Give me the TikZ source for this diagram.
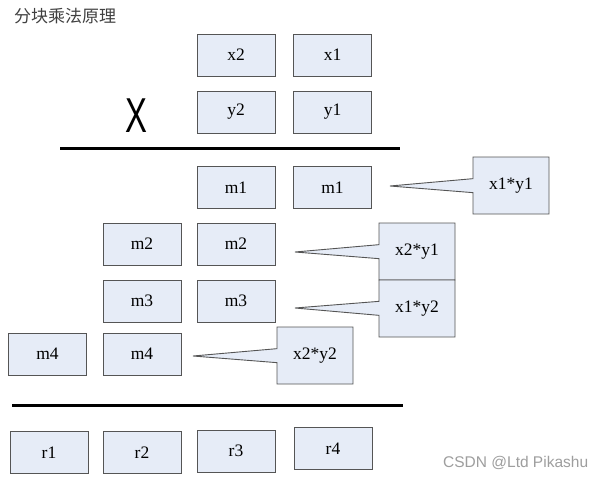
\documentclass[tikz,border=0pt]{standalone}
\usepackage{fontspec}
\usepackage{graphicx}
\setmainfont{Liberation Serif}
\newfontfamily\cjkfont{Noto Sans CJK SC}
\newfontfamily\arialfont{Liberation Sans}
\usetikzlibrary{shapes.callouts}
\definecolor{boxfill}{RGB}{230,236,247}
\definecolor{boxline}{RGB}{85,85,85}
\begin{document}
\begin{tikzpicture}[x=1pt,y=-1pt,
  blk/.style={draw=boxline,fill=boxfill,line width=0.9pt,minimum width=78pt,minimum height=42pt,inner sep=0pt,font=\fontsize{17.5}{17.5}\selectfont},
  call/.style={rectangle callout,draw=boxline,fill=boxfill,line width=0.9pt,minimum width=76pt,minimum height=57pt,inner sep=0pt,callout pointer width=14pt,font=\fontsize{17.5}{17.5}\selectfont},
  rule/.style={line width=3pt,black}]
\useasboundingbox (0,0) rectangle (599,476);
\fill[white] (0,0) rectangle (599,476);
% title
\node[anchor=west,inner sep=0pt,text=black!75,font=\cjkfont\fontsize{17}{17}\selectfont] (title) at (14,16) {分块乘法原理};
% operands
\node[blk] (x2) at (236,55) {x2};
\node[blk] (x1) at (332.5,55) {x1};
\node[blk] (y2) at (236,112) {y2};
\node[blk] (y1) at (332.5,112) {y1};
\node[inner sep=0pt,font=\arialfont\fontsize{49}{49}\selectfont] (times) at (136,116) {\scalebox{0.67}[1]{X}};
% rule 1
\coordinate (l1a) at (60,148);
\coordinate (l1b) at (400,148);
\draw[rule] (l1a) -- (l1b);
% partial products
\node[blk] (m1a) at (236,187.5) {m1};
\node[blk] (m1b) at (332.5,187.5) {m1};
\node[blk] (m2a) at (142,244) {m2};
\node[blk] (m2b) at (236,244) {m2};
\node[blk] (m3a) at (142,301) {m3};
\node[blk] (m3b) at (236,301) {m3};
\node[blk] (m4a) at (47.5,354) {m4};
\node[blk] (m4b) at (142,354) {m4};
% callouts
\coordinate (t1) at (390,186);
\coordinate (t2) at (295,252);
\coordinate (t3) at (295,308);
\coordinate (t4) at (193,356);
\node[call,callout absolute pointer={(t1)}] (c1) at (511,185.5) {x1*y1};
\node[call,callout absolute pointer={(t2)}] (c2) at (417,251.5) {x2*y1};
\node[call,callout absolute pointer={(t3)}] (c3) at (417,308.5) {x1*y2};
\node[call,callout absolute pointer={(t4)}] (c4) at (315,355.5) {x2*y2};
% rule 2
\coordinate (l2a) at (12,405);
\coordinate (l2b) at (403,405);
\draw[rule] (l2a) -- (l2b);
% result
\node[blk] (r1) at (49,452.5) {r1};
\node[blk] (r2) at (142,452.5) {r2};
\node[blk] (r3) at (236,451) {r3};
\node[blk] (r4) at (333,448.5) {r4};
% watermark
\node[anchor=base west,inner sep=0pt,text=black!38,font=\arialfont\fontsize{15.5}{15.5}\selectfont] (wm) at (443,467) {CSDN @Ltd Pikashu};
\end{tikzpicture}
\end{document}
